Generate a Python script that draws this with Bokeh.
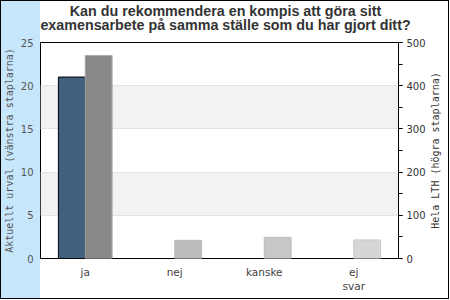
import math
from bokeh.plotting import figure
from bokeh.models import (FactorRange, Range1d, LinearAxis, SingleIntervalTicker,
                          FixedTicker, ColumnDataSource, Label)
from bokeh.transform import dodge
from bokeh.embed import file_html
from bokeh.resources import INLINE

categories = ["ja", "nej", "kanske", "ej\nsvar"]
aktuellt_urval = [21, 0, 0, 0]
hela_lth = [470, 42, 49, 43]
left_fill = ["#41607e", "#41607e", "#41607e", "#41607e"]
right_fill = ["#888888", "#bbbbbb", "#c8c8c8", "#d6d6d6"]
right_line = ["#aaaaaa", "#bbbbbb", "#bbbbbb", "#c8c8c8"]
title_line1 = "Kan du rekommendera en kompis att göra sitt"
title_line2 = "examensarbete på samma ställe som du har gjort ditt?"
left_label = "Aktuellt urval (vänstra staplarna)"
right_label = "Hela LTH (högra staplarna)"

src = ColumnDataSource(dict(cat=categories, left=aktuellt_urval, right=hela_lth,
                            lfill=left_fill, rfill=right_fill, rline=right_line))

p = figure(width=449, height=299, x_range=FactorRange(*categories, range_padding=0),
           y_range=Range1d(0, 25), output_backend="svg", toolbar_location=None,
           min_border_left=40, min_border_right=51, min_border_top=42, min_border_bottom=41)
p.extra_y_ranges = {"right": Range1d(0, 500)}

p.styles = {"outline": "1px solid black", "outline-offset": "-1px",
            "background": "linear-gradient(to right, #c6e6fb 40px, #ffffff 40px)"}
p.border_fill_alpha = 0
p.background_fill_color = "white"
p.outline_line_color = "black"
p.outline_line_width = 1
p.title.visible = False

p.xgrid.grid_line_color = None
p.ygrid.ticker = FixedTicker(ticks=[5, 10, 15, 20])
p.ygrid.grid_line_color = "#e2e2e2"
p.ygrid.band_fill_color = "#f2f2f2"
p.ygrid.band_fill_alpha = 1

p.vbar(x=dodge("cat", -0.15, range=p.x_range), top="left", width=0.3, source=src,
       fill_color="lfill", line_color="black", line_width=1)
p.vbar(x=dodge("cat", 0.15, range=p.x_range), top="right", width=0.3, source=src,
       fill_color="rfill", line_color="rline", line_width=1, y_range_name="right")

# left axis
ya = p.yaxis[0]
ya.ticker = SingleIntervalTicker(interval=5, num_minor_ticks=0)
ya.axis_line_color = None
ya.major_tick_line_color = None
ya.minor_tick_line_color = None
ya.major_tick_out = 0
ya.minor_tick_out = 0
ya.major_label_standoff = 7
ya.major_label_text_font = "DejaVu Sans"
ya.major_label_text_font_size = "10px"
ya.major_label_text_color = "#555555"
ya.axis_label = left_label
ya.axis_label_text_font = "DejaVu Sans Mono"
ya.axis_label_text_font_size = "10px"
ya.axis_label_text_font_style = "normal"
ya.axis_label_text_color = "#555555"
ya.axis_label_standoff = 3

# right axis
ra = LinearAxis(y_range_name="right",
                ticker=SingleIntervalTicker(interval=100, num_minor_ticks=2))
ra.axis_line_color = "black"
ra.major_tick_out = 4
ra.major_tick_in = 0
ra.minor_tick_out = 4
ra.minor_tick_in = 0
ra.major_tick_line_color = "black"
ra.minor_tick_line_color = "black"
ra.major_label_standoff = 4
ra.major_label_text_font = "DejaVu Sans"
ra.major_label_text_font_size = "10px"
ra.major_label_text_color = "#333333"
p.add_layout(ra, "right")

# right axis title, placed in the right side panel (not clipped there)
p.add_layout(Label(x=7, y=108, x_units="screen", y_units="screen", text=right_label,
                   angle=math.pi / 2, text_align="center", text_baseline="middle",
                   text_font="DejaVu Sans Mono", text_font_size="10px",
                   text_color="#333333"), "right")

# chart title, two centred lines in the top side panels
for txt, ypos in [(title_line2, 18), (title_line1, 16)]:
    p.add_layout(Label(x=185, y=ypos, x_units="screen", y_units="screen", text=txt,
                       text_align="center", text_baseline="middle",
                       text_font="Liberation Sans", text_font_size="14.3px",
                       text_font_style="bold", text_color="#333333"), "above")

# x axis
xa = p.xaxis[0]
xa.axis_line_color = None
xa.major_tick_line_color = None
xa.minor_tick_line_color = None
xa.major_tick_out = 0
xa.major_label_standoff = 7
xa.major_label_text_font = "DejaVu Sans"
xa.major_label_text_font_size = "10.5px"
xa.major_label_text_color = "#444444"

open("out.html", "w").write(file_html(p, INLINE))
